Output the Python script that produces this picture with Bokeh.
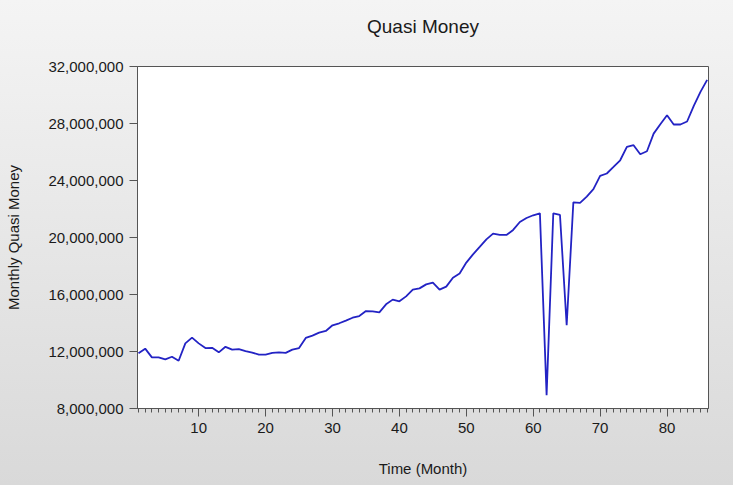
from bokeh.plotting import figure
from bokeh.models import FixedTicker, NumeralTickFormatter, Range1d, LinearAxis
from bokeh.embed import file_html
from bokeh.resources import INLINE

months = list(range(1, 87))
quasi_money = [
    11870000, 12200000, 11590000, 11590000, 11450000, 11630000, 11350000, 12570000, 12970000, 12570000,
    12240000, 12260000, 11940000, 12330000, 12130000, 12170000, 12030000, 11920000, 11780000, 11780000,
    11900000, 11940000, 11900000, 12130000, 12240000, 12950000, 13110000, 13320000, 13440000, 13840000,
    13980000, 14170000, 14370000, 14490000, 14840000, 14820000, 14750000, 15310000, 15640000, 15520000,
    15870000, 16340000, 16430000, 16710000, 16830000, 16340000, 16550000, 17180000, 17480000, 18240000,
    18820000, 19340000, 19870000, 20270000, 20180000, 20180000, 20530000, 21090000, 21370000, 21560000,
    21700000, 8940000, 21700000, 21580000, 13840000, 22470000, 22430000, 22870000, 23390000, 24320000,
    24490000, 24950000, 25420000, 26360000, 26480000, 25840000, 26050000, 27290000, 27950000, 28580000,
    27930000, 27930000, 28140000, 29240000, 30220000, 31060000,
]
y_ticks = [8000000, 12000000, 16000000, 20000000, 24000000, 28000000, 32000000]
x_ticks = [10, 20, 30, 40, 50, 60, 70, 80]
title_text = "Quasi Money"

FONT = "Liberation Sans"
TXT = "#1a1a1a"
AX = "#555555"

p = figure(width=733, height=485, output_backend="svg", toolbar_location=None,
           x_range=Range1d(0.85, 86.2), y_range=Range1d(8000000, 32000000),
           min_border_left=137, min_border_right=25, min_border_top=66, min_border_bottom=77)

p.styles = {"background": "linear-gradient(to bottom, #f4f4f4, #d9d9d9)"}
p.border_fill_color = None
p.background_fill_color = "white"
p.outline_line_color = AX
p.outline_line_width = 1

p.line(months, quasi_money, line_color="#2323c4", line_width=1.8)

p.xgrid.visible = False
p.ygrid.visible = False

xa = p.below[0]
ya = p.left[0]

xa.ticker = FixedTicker(ticks=x_ticks, minor_ticks=months)
xa.axis_label = "Time (Month)"
xa.major_tick_out = 8
xa.major_tick_in = 0
xa.minor_tick_out = 4
xa.minor_tick_in = 0
ya.ticker = FixedTicker(ticks=y_ticks, minor_ticks=[])
ya.formatter = NumeralTickFormatter(format="0,0")
ya.axis_label = "Monthly Quasi Money"
ya.major_tick_out = 8
ya.major_tick_in = 0

for ax in (xa, ya):
    ax.axis_line_color = AX
    ax.major_tick_line_color = AX
    ax.minor_tick_line_color = AX
    ax.major_label_text_font = FONT
    ax.major_label_text_font_size = "15px"
    ax.major_label_text_color = TXT
    ax.axis_label_text_font = FONT
    ax.axis_label_text_font_size = "15px"
    ax.axis_label_text_font_style = "normal"
    ax.axis_label_text_color = TXT
    ax.major_label_standoff = 6

xa.axis_label_standoff = 24
ya.axis_label_standoff = 23

# chart title drawn as the label of a bare axis above the frame
top = LinearAxis(ticker=FixedTicker(ticks=[]), axis_label=title_text,
                 axis_line_color=None, major_tick_line_color=None, minor_tick_line_color=None,
                 major_label_text_font_size="0px", major_label_standoff=0,
                 major_tick_out=0, major_tick_in=0, minor_tick_out=0, minor_tick_in=0,
                 axis_label_text_font=FONT, axis_label_text_font_size="19px",
                 axis_label_text_font_style="normal", axis_label_text_color=TXT,
                 axis_label_standoff=30)
p.add_layout(top, "above")

open("out.html", "w").write(file_html(p, INLINE))
